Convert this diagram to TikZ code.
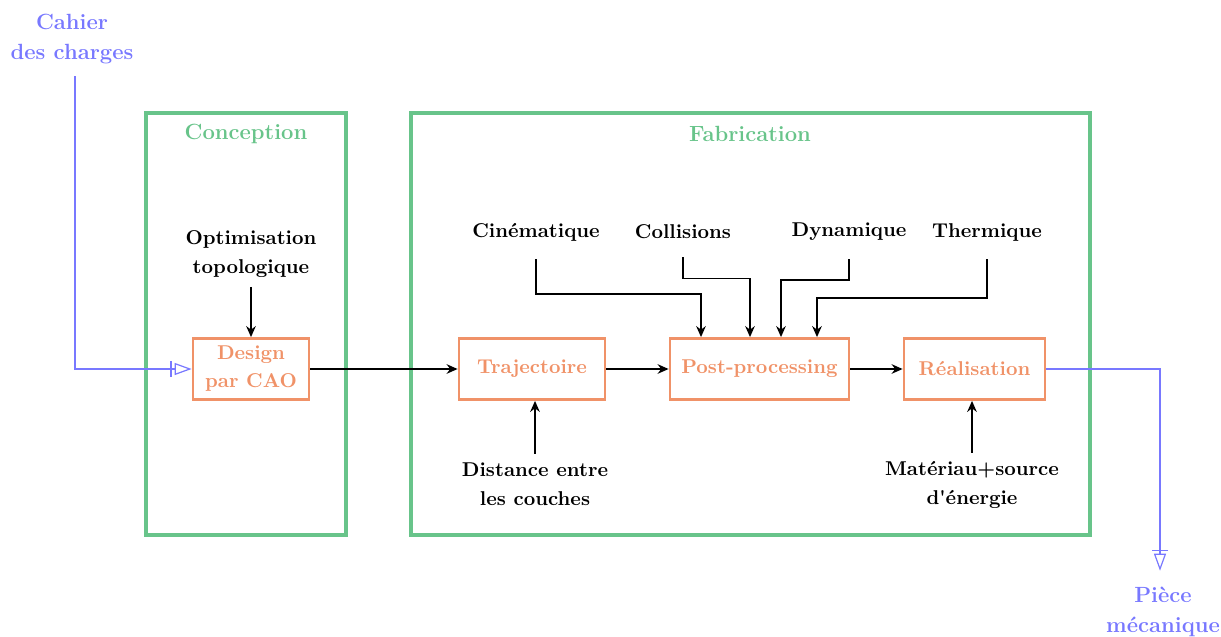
\documentclass[tikz,border=0pt]{standalone}
\usetikzlibrary{arrows.meta}
\usepackage{textcomp}
\definecolor{cgreen}{RGB}{104,196,138}
\definecolor{corange}{RGB}{240,146,104}
\definecolor{cblue}{RGB}{120,120,255}
\begin{document}
\begin{tikzpicture}[x=0.5pt,y=-0.5pt,
  lbl/.style={font=\bfseries\fontsize{10}{14.5}\selectfont, align=center, inner sep=0pt},
  blbl/.style={font=\bfseries\fontsize{11}{15}\selectfont, align=center, inner sep=0pt, text=cblue},
  blk/.style={draw=corange, line width=1.4pt, text=corange, font=\bfseries\fontsize{10}{14}\selectfont, align=center, minimum height=30.5pt, inner sep=0pt},
  grp/.style={draw=cgreen, line width=1.8pt, inner sep=0pt},
  gtitle/.style={text=cgreen, font=\bfseries\fontsize{11}{12}\selectfont, inner sep=0pt},
  arr/.style={-{Stealth[length=5.5pt,width=4.8pt]}, line width=0.9pt},
  io/.style={cblue, thick, -{Bar[width=8pt,line width=0.6pt,sep=1.5pt]Triangle[open,length=8.5pt,width=6pt,line width=0.6pt]}}]
\useasboundingbox (0,0) rectangle (1221,637);
% groups
\node[grp, minimum width=100pt, minimum height=211pt] (conc) at (246,324) {};
\node[grp, minimum width=339.5pt, minimum height=211pt] (fab) at (750.5,324) {};
\node[gtitle] (tconc) at (246,134) {Conception};
\node[gtitle] (tfab) at (750,134) {Fabrication};
% blocks
\node[blk, minimum width=58pt] (des) at (251,369) {Design\\par CAO};
\node[blk, minimum width=73pt] (traj) at (532,369) {Trajectoire};
\node[blk, minimum width=89.5pt] (post) at (759.5,369) {Post-processing};
\node[blk, minimum width=70.5pt] (rea) at (974.5,369) {Réalisation};
% labels
\node[blbl] (cah) at (72,39) {Cahier\\des charges};
\node[blbl] (pm) at (1163,612) {Pièce\\mécanique};
\node[lbl] (opt) at (251,254) {Optimisation\\topologique};
\node[lbl] (cin) at (536,232) {Cinématique};
\node[lbl] (col) at (683,232) {Collisions};
\node[lbl] (dyn) at (849,232) {Dynamique};
\node[lbl] (the) at (987,232) {Thermique};
\node[lbl] (dist) at (535,484) {Distance entre\\les couches};
\node[lbl] (mat) at (972,485) {Matériau+source\\d\textquotesingle énergie};
% connectors
\draw[io] ([xshift=1.5pt,yshift=-6pt]cah.south) |- (des.west);
\draw[io] (rea.east) -| ([xshift=-1.5pt,yshift=8pt]pm.north);
\draw[arr] ([yshift=-4.5pt]opt.south) -- (des.north);
\draw[arr] (des.east) -- (traj.west);
\draw[arr] (traj.east) -- (post.west);
\draw[arr] (post.east) -- (rea.west);
\draw[arr] ([yshift=-9pt]cin.south) -- ++(0,35) -| ([xshift=-29.25pt]post.north);
\draw[arr] ([yshift=-9pt]col.south) -- ++(0,21) -| ([xshift=-4.75pt]post.north);
\draw[arr] ([yshift=-9pt]dyn.south) -- ++(0,21) -| ([xshift=10.75pt]post.north);
\draw[arr] ([yshift=-9pt]the.south) -- ++(0,39) -| ([xshift=28.75pt]post.north);
\draw[arr] ([yshift=4.25pt]dist.north) -- (dist.north |- traj.south);
\draw[arr] ([yshift=4.25pt]mat.north) -- (mat.north |- rea.south);
\end{tikzpicture}
\end{document}
